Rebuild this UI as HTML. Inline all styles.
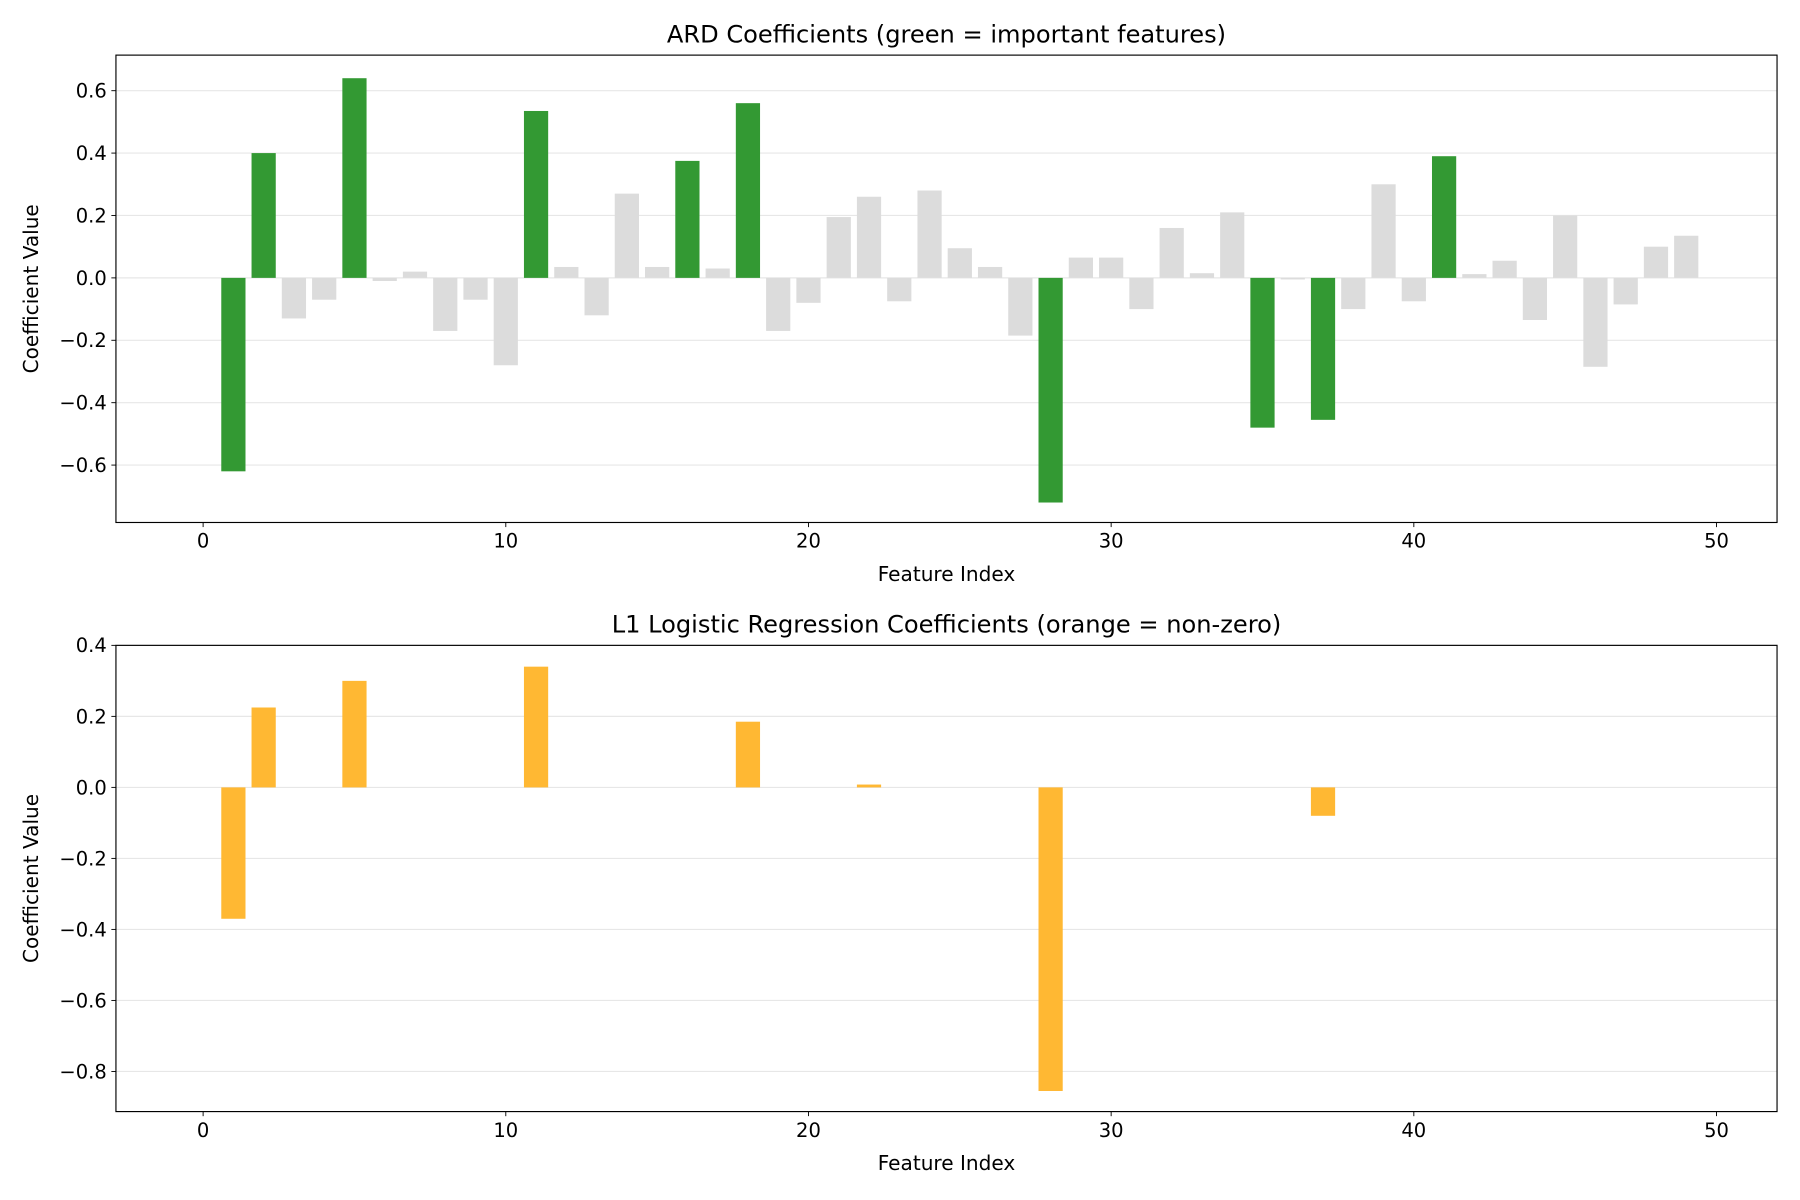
<!DOCTYPE html>
<html><head><meta charset="utf-8"><style>html,body{margin:0;padding:0;background:#fff}svg{display:block}text{font-family:"DejaVu Sans","Liberation Sans",sans-serif;fill:#000}</style></head>
<body>
<svg id="fig" width="1800" height="1200" viewBox="0 0 1568 1045" preserveAspectRatio="none" xmlns="http://www.w3.org/2000/svg">
<rect width="1568" height="1045" fill="#fff"/>
</svg>
<script>
const ardValues = [0,-0.62,0.40,-0.13,-0.07,0.64,-0.01,0.02,-0.17,-0.07,-0.28,0.535,0.035,-0.12,0.27,0.035,0.375,0.03,0.56,-0.17,-0.08,0.195,0.26,-0.075,0.28,0.095,0.035,-0.185,-0.72,0.065,0.065,-0.10,0.16,0.015,0.21,-0.48,-0.005,-0.455,-0.10,0.30,-0.075,0.39,0.012,0.055,-0.135,0.20,-0.285,-0.085,0.10,0.135];
const ardImportant = [1,2,5,11,16,18,28,35,37,41];
const l1Values = [0,-0.37,0.225,0,0,0.30,0,0,0,0,0,0.34,0,0,0,0,0,0,0.185,0,0,0,0.008,0,0,0,0,0,-0.855,0,0,0,0,0,0,0,0,-0.08,0,0,0,0,0,0,0,0,0,0,0,0];
const xTicks = [0,10,20,30,40,50];
const ardYTicks = [-0.6,-0.4,-0.2,0.0,0.2,0.4,0.6];
const l1YTicks = [-0.8,-0.6,-0.4,-0.2,0.0,0.2,0.4];

const svg = document.getElementById('fig');
const NS = 'http://www.w3.org/2000/svg';
function mk(tag, attrs, parent){const e=document.createElementNS(NS,tag);for(const k in attrs)e.setAttribute(k,attrs[k]);(parent||svg).appendChild(e);return e;}

function panel(name, top, bottom, ymin, ymax, values, colorFn, yTicks, title){
  const L=101,R=1548,xmin=-2.88,xmax=52.0;
  const g=mk('g',{});
  
  
  const xs=v=>L+(v-xmin)/(xmax-xmin)*(R-L);
  const ys=v=>bottom-(v-ymin)/(ymax-ymin)*(bottom-top);
  yTicks.forEach(t=>{
    const y=ys(t);
    const gl=mk('line',{x1:L,x2:R,y1:y,y2:y,stroke:'#b0b0b0','stroke-opacity':0.3,'stroke-width':1},g);
    
    
    mk('line',{x1:L-4,x2:L,y1:y,y2:y,stroke:'#000','stroke-width':0.8},g);
    const tx=mk('text',{x:L-8,y:y+6,'text-anchor':'end','font-size':17},g);
    tx.textContent=t.toFixed(1).replace('-','\u2212');
    
    
  });
  values.forEach((v,i)=>{
    if(v===0)return;
    const y0=ys(0),y1=ys(v);
    const b=mk('rect',{x:xs(i-0.4),width:xs(i+0.4)-xs(i-0.4),y:Math.min(y0,y1),height:Math.abs(y1-y0),fill:colorFn(i)},g);
    
    
  });
  xTicks.forEach(t=>{
    const x=xs(t);
    mk('line',{x1:x,x2:x,y1:bottom,y2:bottom+4,stroke:'#000','stroke-width':0.8},g);
    const tx=mk('text',{x:x,y:bottom+22,'text-anchor':'middle','font-size':17},g);
    tx.textContent=t;
    
    
  });
  const fr=mk('rect',{x:L,y:top,width:R-L,height:bottom-top,fill:'none',stroke:'#000','stroke-width':1},g);
  
  
  const tt=mk('text',{x:(L+R)/2,y:top-11,'text-anchor':'middle','font-size':21},g);
  tt.textContent=title;
  
  
  const xl=mk('text',{x:(L+R)/2,y:bottom+51,'text-anchor':'middle','font-size':17.5},g);
  xl.textContent='Feature Index';
  
  
  const cy=(top+bottom)/2;
  const yl=mk('text',{x:33,y:cy,'text-anchor':'middle','font-size':17.5,transform:'rotate(-90 33 '+cy+')'},g);
  yl.textContent='Coefficient Value';
  
  
}
panel('ard-chart',48,455,-0.784,0.714,ardValues,i=>ardImportant.includes(i)?'#339933':'#dcdcdc',ardYTicks,'ARD Coefficients (green = important features)');
panel('l1-chart',562,968,-0.913,0.4,l1Values,i=>'#ffb833',l1YTicks,'L1 Logistic Regression Coefficients (orange = non-zero)');
</script>
</body></html>
